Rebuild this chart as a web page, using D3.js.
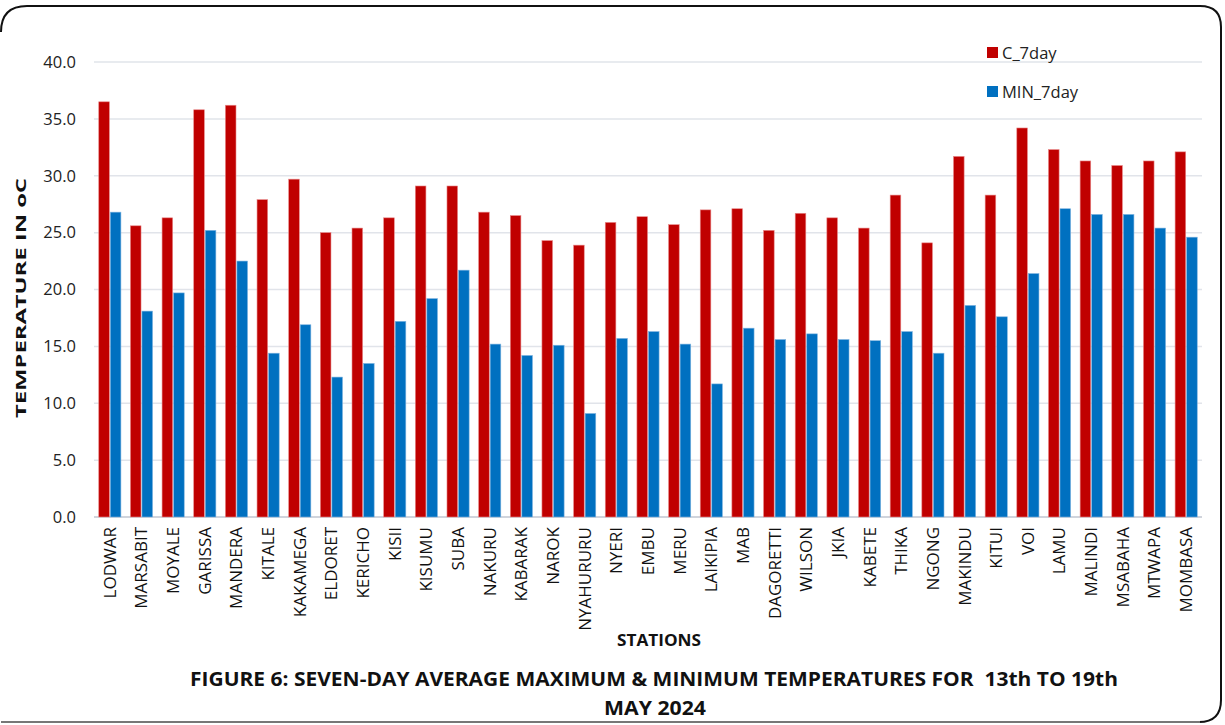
<!DOCTYPE html>
<html><head><meta charset="utf-8">
<script src="https://cdn.jsdelivr.net/npm/d3@7"></script>
<style>body{margin:0;background:#fff;}svg{display:block;font-family:"Open Sans","Noto Sans",sans-serif;}</style>
</head><body><svg id="c" width="1225" height="725"></svg>
<script>
const stations = ["LODWAR","MARSABIT","MOYALE","GARISSA","MANDERA","KITALE","KAKAMEGA","ELDORET","KERICHO","KISII","KISUMU","SUBA","NAKURU","KABARAK","NAROK","NYAHURURU","NYERI","EMBU","MERU","LAIKIPIA","MAB","DAGORETTI","WILSON","JKIA","KABETE","THIKA","NGONG","MAKINDU","KITUI","VOI","LAMU","MALINDI","MSABAHA","MTWAPA","MOMBASA"];
const maxTemp = [36.5,25.6,26.3,35.8,36.2,27.9,29.7,25.0,25.4,26.3,29.1,29.1,26.8,26.5,24.3,23.9,25.9,26.4,25.7,27.0,27.1,25.2,26.7,26.3,25.4,28.3,24.1,31.7,28.3,34.2,32.3,31.3,30.9,31.3,32.1];
const minTemp = [26.8,18.1,19.7,25.2,22.5,14.4,16.9,12.3,13.5,17.2,19.2,21.7,15.2,14.2,15.1,9.1,15.7,16.3,15.2,11.7,16.6,15.6,16.1,15.6,15.5,16.3,14.4,18.6,17.6,21.4,27.1,26.6,26.6,25.4,24.6];
const seriesNames = ["C_7day","MIN_7day"];
const seriesColors = ["#C00000","#0070C0"];
const yTicks = [0,5,10,15,20,25,30,35,40];

const svg = d3.select("#c");
// frame
svg.append("path")
  .attr("d","M1,32 Q1,6 27,6 L1200,6 Q1221,6 1221,27 L1221,700 Q1221,722 1199,722 L1,722")
  .attr("fill","none").attr("stroke","#111").attr("stroke-width",2);
svg.append("line").attr("x1",1).attr("x2",1200).attr("y1",722).attr("y2",722).attr("stroke","#777").attr("stroke-width",2);

const x0 = d3.scaleBand().domain(stations).range([94,1202]).paddingInner(0.3).paddingOuter(0.15);
const x1 = d3.scaleBand().domain(seriesNames).range([0,x0.bandwidth()]).paddingInner(0.08);
const y = d3.scaleLinear().domain([0,40]).range([517,62]);

// gridlines
svg.append("g").selectAll("line").data(yTicks).join("line")
  .attr("x1",94).attr("x2",1202).attr("y1",d=>y(d)).attr("y2",d=>y(d))
  .attr("stroke",d=>d===0?"#d0d4dc":"#e1e4ea").attr("stroke-width",d=>d===0?2:1.5);

// y axis labels
const yAxis = d3.axisLeft(y).tickValues(yTicks).tickFormat(d3.format(".1f")).tickSize(0).tickPadding(0);
const gy = svg.append("g").attr("transform","translate(76,0)").call(yAxis);
gy.select(".domain").remove();
gy.selectAll("text").attr("font-size",16.5).attr("fill","#222").attr("font-family","Open Sans, sans-serif");

// bars
const data = stations.map((s,i)=>({s, vals:[maxTemp[i],minTemp[i]]}));
const groups = svg.append("g").selectAll("g").data(data).join("g").attr("transform",d=>`translate(${x0(d.s)},0)`);
groups.selectAll("rect").data(d=>d.vals.map((v,j)=>({v,j}))).join("rect")
  .attr("x",d=>x1(seriesNames[d.j])).attr("width",x1.bandwidth())
  .attr("y",d=>y(d.v)).attr("height",d=>y(0)-y(d.v))
  .attr("fill",d=>seriesColors[d.j])
  .attr("stroke",d=>d.j===0?"#e88a8a":"#7fb4e0").attr("stroke-width",0.6);

// x axis labels
const xAxis = d3.axisBottom(x0).tickSize(0).tickPadding(0);
const gx = svg.append("g").call(xAxis);
gx.select(".domain").remove();
gx.selectAll(".tick text")
  .attr("transform","rotate(-90)")
  .attr("x",-527).attr("y",0).attr("dy","0.35em").attr("text-anchor","end")
  .attr("font-size",17).attr("fill","#111").attr("font-family","Open Sans, sans-serif");
gx.selectAll(".tick").attr("transform",d=>`translate(${x0(d)+x0.bandwidth()/2},0)`);

// axis titles
svg.append("text").attr("transform","translate(26,298) rotate(-90)").attr("text-anchor","middle")
  .attr("font-weight","bold").attr("font-size",15).attr("fill","#111")
  .attr("textLength",240).attr("lengthAdjust","spacingAndGlyphs").text("TEMPERATURE IN oC");
svg.append("text").attr("x",659).attr("y",646).attr("text-anchor","middle")
  .attr("font-weight","bold").attr("font-size",15.5).attr("fill","#111").attr("textLength",84).attr("lengthAdjust","spacingAndGlyphs").text("STATIONS");

// title
svg.append("text").attr("x",654).attr("y",686).attr("text-anchor","middle")
  .attr("font-weight","bold").attr("font-size",19).attr("fill","#111")
  .attr("textLength",928).attr("lengthAdjust","spacingAndGlyphs").attr("xml:space","preserve")
  .text("FIGURE 6: SEVEN-DAY AVERAGE MAXIMUM & MINIMUM TEMPERATURES FOR  13th TO 19th");
svg.append("text").attr("x",655).attr("y",715).attr("text-anchor","middle")
  .attr("font-weight","bold").attr("font-size",19).attr("fill","#111")
  .attr("textLength",102).attr("lengthAdjust","spacingAndGlyphs").text("MAY 2024");

// legend
const lg = svg.append("g").selectAll("g").data(seriesNames).join("g")
  .attr("transform",(d,i)=>`translate(987,${47+i*39})`);
lg.append("rect").attr("width",11).attr("height",11).attr("fill",(d,i)=>seriesColors[i]);
lg.append("text").attr("x",15).attr("y",6).attr("dy","0.35em").attr("font-size",16.5).attr("fill","#222").text(d=>d);
</script></body></html>
